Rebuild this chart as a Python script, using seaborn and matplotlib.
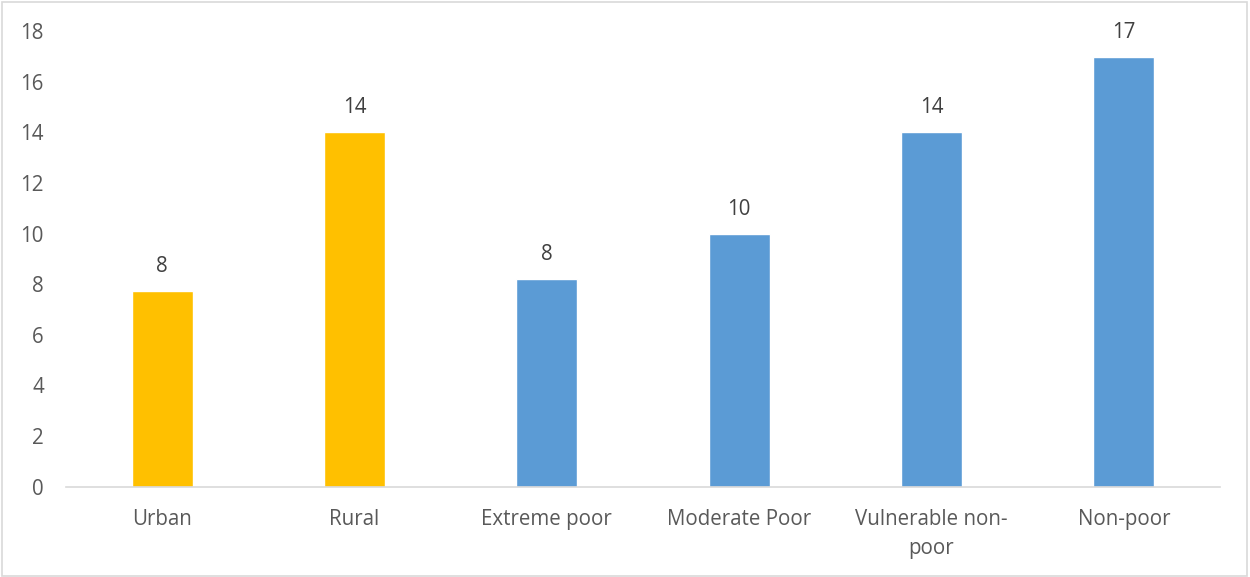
import matplotlib
matplotlib.use("Agg")
import matplotlib.pyplot as plt
from matplotlib.patches import Rectangle
import seaborn as sns
import pandas as pd

# Category labels and values
categories = ["Urban", "Rural", "Extreme poor", "Moderate Poor",
              "Vulnerable non-\npoor", "Non-poor"]
values = [7.73, 14.01, 8.21, 9.99, 14.0, 16.98]
bar_colors = ["#FFC000", "#FFC000", "#5B9BD5", "#5B9BD5", "#5B9BD5", "#5B9BD5"]
y_ticks = [0, 2, 4, 6, 8, 10, 12, 14, 16, 18]

sns.set_theme(style="white")
plt.rcParams["font.family"] = ["Open Sans", "DejaVu Sans"]

df = pd.DataFrame({"category": categories, "value": values})

fig = plt.figure(figsize=(12.5, 5.77), dpi=100)
ax = fig.add_axes([66 / 1250, 90.3 / 577, (1220 - 66) / 1250, (486.7 - 31) / 577])

sns.barplot(data=df, x="category", y="value", hue="category",
            palette=dict(zip(categories, bar_colors)), legend=False,
            width=0.317, saturation=1, ax=ax)

ax.set_ylim(0, 18)
ax.set_xlim(-0.5, len(categories) - 0.5)
ax.set_yticks(y_ticks)
ax.set_yticklabels([str(t) for t in y_ticks])
ax.set_xlabel("")
ax.set_ylabel("")
ax.tick_params(axis="both", length=0, colors="#595959", labelsize=14.8)
ax.tick_params(axis="y", pad=16)
ax.tick_params(axis="x", pad=16)
for lbl in ax.get_xticklabels():
    lbl.set_linespacing(1.5)

for side in ["top", "right", "left"]:
    ax.spines[side].set_visible(False)
ax.spines["bottom"].set_color("#D9D9D9")
ax.spines["bottom"].set_linewidth(1.2)

# Value labels above each bar
for container in ax.containers:
    ax.bar_label(container, labels=[f"{v:.0f}" for v in container.datavalues],
                 padding=10, fontsize=14.8, color="#404040")

# Light frame around the chart area
fig.patches.append(Rectangle((0.0015, 0.002), 0.996, 0.995, transform=fig.transFigure,
                             fill=False, edgecolor="#D9D9D9", linewidth=1.2))

fig.savefig("out.png", dpi=100, facecolor="white")
